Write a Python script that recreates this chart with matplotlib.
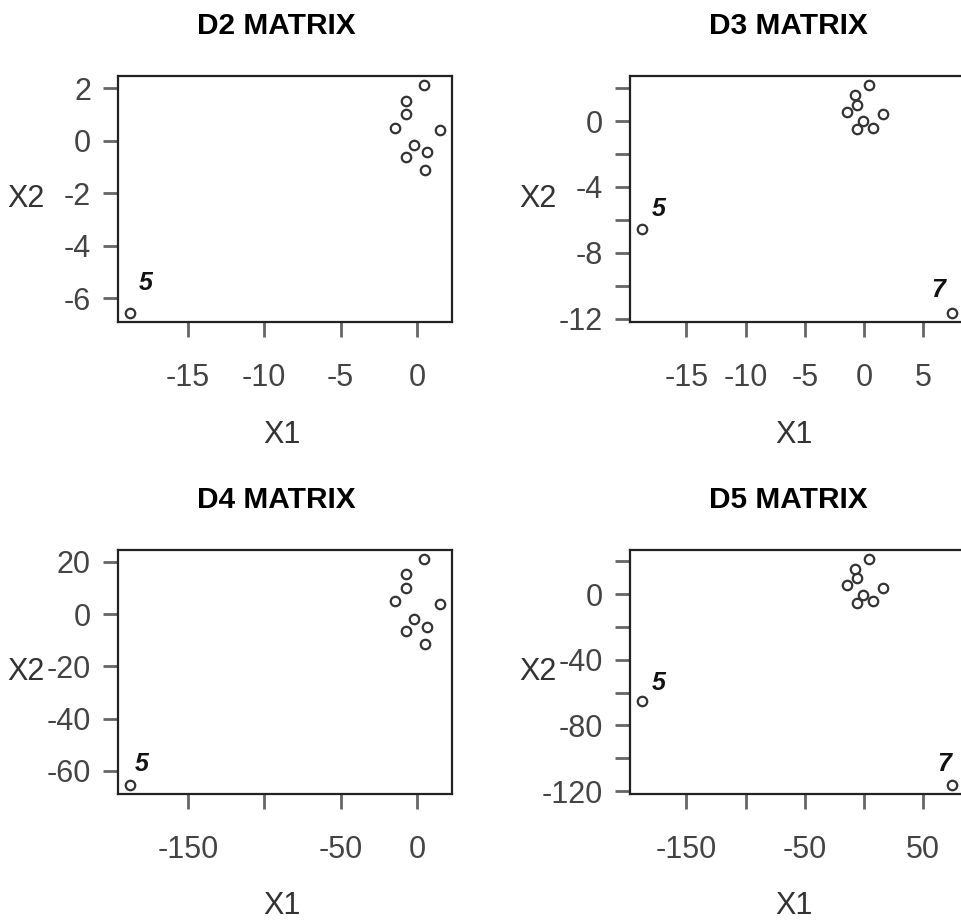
import matplotlib
matplotlib.use("Agg")
import matplotlib.pyplot as plt

plt.rcParams['font.family'] = ['Liberation Sans', 'DejaVu Sans']

# point coordinates, points 1..10 (point 5 and 7 are labelled where they stand out)
d2_x = [0.44, -0.72, -0.72, -1.46, -18.76, 1.49, 0.54, -0.17, -0.72, 0.67]
d2_y = [2.11, 1.52, 1.01, 0.49, -6.56, 0.41, -1.12, -0.16, -0.62, -0.45]

d3_x = [0.40, -0.73, -0.59, -1.44, -18.72, 1.57, 7.40, -0.06, -0.62, 0.74]
d3_y = [2.18, 1.61, 1.00, 0.54, -6.53, 0.44, -11.64, -0.02, -0.48, -0.40]

d4_x = [4.4, -7.2, -7.2, -14.6, -187.6, 14.9, 5.4, -1.7, -7.2, 6.7]
d4_y = [21.1, 15.2, 10.2, 4.9, -65.4, 4.0, -11.3, -1.9, -6.3, -4.8]

d5_x = [4.0, -7.3, -5.9, -14.4, -187.2, 15.8, 74.1, -0.6, -6.2, 7.3]
d5_y = [21.4, 15.4, 9.6, 5.4, -65.4, 4.0, -116.3, -0.6, -5.4, -4.4]

titles = ["D2 MATRIX", "D3 MATRIX", "D4 MATRIX", "D5 MATRIX"]
labelled = [[5], [5, 7], [5], [5, 7]]

xticks = [[-15, -10, -5, 0], [-15, -10, -5, 0, 5],
          [-150, -100, -50, 0], [-150, -100, -50, 0, 50]]
xticklabels = [["-15", "-10", "-5", "0"], ["-15", "-10", "-5", "0", "5"],
               ["-150", "", "-50", "0"], ["-150", "", "-50", "", "50"]]
yticks = [[2, 0, -2, -4, -6], [2, 0, -2, -4, -6, -8, -10, -12],
          [20, 0, -20, -40, -60], [20, 0, -20, -40, -60, -80, -100, -120]]
yticklabels = [["2", "0", "-2", "-4", "-6"], ["", "0", "", "-4", "", "-8", "", "-12"],
               ["20", "0", "-20", "-40", "-60"], ["", "0", "", "-40", "", "-80", "", "-120"]]

# axes boxes in pixels: left, top, right, bottom
W, H = 962, 924
boxes = [(118, 76, 452, 322), (630, 76, 964, 322),
         (118, 550, 452, 794), (630, 550, 964, 794)]
# text offsets (points) of the "5" / "7" labels from their points
label_offsets = [[(11, 21.5)], [(11.5, 14), (-9.5, 16.5)],
                 [(8, 15)], [(11.5, 13), (-5, 15)]]

fig = plt.figure(figsize=(W / 100, H / 100), dpi=100)

data = [(d2_x, d2_y), (d3_x, d3_y), (d4_x, d4_y), (d5_x, d5_y)]
for i, (xs, ys) in enumerate(data):
    l, t, r, b = boxes[i]
    ax = fig.add_axes([l / W, 1 - b / H, (r - l) / W, (b - t) / H])
    ax.plot(xs, ys, 'o', ms=6.8, mfc='none', mec='#333333', mew=1.6)
    ax.margins(0.04)

    for j, n in enumerate(labelled[i]):
        ax.annotate(str(n), (xs[n - 1], ys[n - 1]), xytext=label_offsets[i][j],
                    textcoords='offset points', ha='center', va='center',
                    fontsize=18, fontweight='bold', fontstyle='italic', color='#111111')

    ax.set_xticks(xticks[i])
    ax.set_xticklabels(xticklabels[i])
    ax.set_yticks(yticks[i])
    ax.set_yticklabels(yticklabels[i])
    ax.tick_params(direction='out', length=10.5, width=2, color='#666666',
                   labelsize=22, labelcolor='#444444')
    ax.tick_params(axis='x', pad=19)
    ax.tick_params(axis='y', pad=9)
    for s in ax.spines.values():
        s.set_linewidth(1.6)
        s.set_color('#222222')

    ax.set_title(titles[i], fontsize=21.5, fontweight='bold', pad=30, x=0.475)
    ax.set_xlabel('X1', fontsize=22, color='#333333')
    ax.xaxis.set_label_coords(0.49, -0.46)
    ax.xaxis.label.set_va('center')
    ax.set_ylabel('X2', fontsize=22, color='#333333', rotation=0)
    ax.yaxis.set_label_coords(-0.275, 0.5)
    ax.yaxis.label.set_ha('center')
    ax.yaxis.label.set_va('center')

fig.savefig('out.png', dpi=100)
